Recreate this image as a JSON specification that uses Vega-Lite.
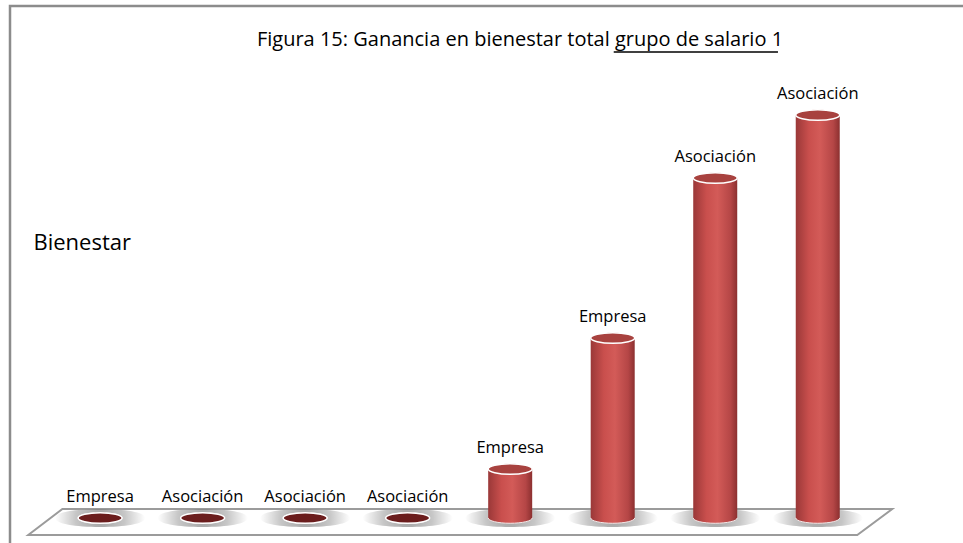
{
  "$schema": "https://vega.github.io/schema/vega-lite/v6.json",
  "width": 960,
  "height": 540,
  "autosize": {"type": "none"},
  "padding": {"left": 10, "top": 6, "right": 0, "bottom": 0},
  "background": "white",
  "config": {"view": {"stroke": "#8c8c8c", "strokeWidth": 2.5}, "font": "Open Sans"},
  "title": {
    "text": "Figura 15: Ganancia en bienestar total grupo de salario 1",
    "font": "Open Sans",
    "fontSize": 20,
    "fontWeight": "normal",
    "color": "#000000",
    "anchor": "middle",
    "frame": "group",
    "baseline": "alphabetic",
    "offset": -60,
    "dx": 30
  },
  "data": {
    "values": [
      {"pos": 1, "tipo": "Empresa", "bienestar": 0},
      {"pos": 2, "tipo": "Asociación", "bienestar": 0},
      {"pos": 3, "tipo": "Asociación", "bienestar": 0},
      {"pos": 4, "tipo": "Asociación", "bienestar": 0},
      {"pos": 5, "tipo": "Empresa", "bienestar": 49},
      {"pos": 6, "tipo": "Empresa", "bienestar": 180},
      {"pos": 7, "tipo": "Asociación", "bienestar": 340},
      {"pos": 8, "tipo": "Asociación", "bienestar": 403}
    ]
  },
  "encoding": {
    "x": {"field": "pos", "type": "quantitative", "scale": {"domain": [0.1699, 9.4363], "nice": false, "zero": false}, "axis": null},
    "y": {
      "field": "bienestar",
      "type": "quantitative",
      "scale": {"domain": [-28, 512], "nice": false, "zero": false},
      "axis": {
        "title": "Bienestar",
        "labels": false,
        "ticks": false,
        "domain": false,
        "grid": false,
        "titleAngle": 0,
        "titleX": 23,
        "titleY": 236,
        "titleAlign": "left",
        "titleBaseline": "middle",
        "titleFont": "Open Sans",
        "titleFontSize": 22,
        "titleFontWeight": "normal",
        "titleColor": "#000000"
      }
    }
  },
  "layer": [
    {
      "transform": [{"filter": "datum.pos == 1"}],
      "mark": {
        "type": "point",
        "shape": "M-0.921,-0.0301L1,-0.0301L0.919,0.0301L-1,0.0301Z",
        "size": 746496,
        "filled": true,
        "fill": "#ffffff",
        "stroke": "#9b9b9b",
        "strokeWidth": 2,
        "opacity": 1
      },
      "encoding": {
        "x": {"datum": 4.513, "type": "quantitative"},
        "y": {"datum": -4, "type": "quantitative"}
      }
    },
    {
      "mark": {
        "type": "point",
        "shape": "M-1,0C-1,-0.13,-0.55,-0.2,0,-0.2C0.55,-0.2,1,-0.13,1,0C1,0.13,0.55,0.2,0,0.2C-0.55,0.2,-1,0.13,-1,0Z",
        "size": 8100,
        "filled": true,
        "strokeWidth": 0,
        "opacity": 0.65,
        "fill": {
          "gradient": "radial",
          "x1": 0.5, "y1": 0.5, "r1": 0,
          "x2": 0.5, "y2": 0.5, "r2": 0.5,
          "stops": [
            {"offset": 0, "color": "#6f6f6f"},
            {"offset": 0.55, "color": "#a8a8a8"},
            {"offset": 1, "color": "#ffffff"}
          ]
        }
      },
      "encoding": {"y": {"datum": 0, "type": "quantitative"}}
    },
    {
      "mark": {
        "type": "point",
        "shape": "M-1,0C-1,-0.13,-0.55,-0.24,0,-0.24C0.55,-0.24,1,-0.13,1,0C1,0.13,0.55,0.24,0,0.24C-0.55,0.24,-1,0.13,-1,0Z",
        "size": 1936,
        "filled": true,
        "opacity": 1,
        "stroke": "#f2e6e6",
        "strokeWidth": 1,
        "fill": {
          "gradient": "linear",
          "x1": 0, "y1": 0, "x2": 1, "y2": 0,
          "stops": [
            {"offset": 0, "color": "#9a3838"},
            {"offset": 0.3, "color": "#c94f4d"},
            {"offset": 0.55, "color": "#d35b58"},
            {"offset": 0.85, "color": "#b54646"},
            {"offset": 1, "color": "#8c3030"}
          ]
        }
      },
      "encoding": {"y": {"datum": 0, "type": "quantitative"}}
    },
    {
      "mark": {
        "type": "bar",
        "width": 44,
        "fill": {
          "gradient": "linear",
          "x1": 0, "y1": 0, "x2": 1, "y2": 0,
          "stops": [
            {"offset": 0, "color": "#9a3838"},
            {"offset": 0.3, "color": "#c94f4d"},
            {"offset": 0.55, "color": "#d35b58"},
            {"offset": 0.85, "color": "#b54646"},
            {"offset": 1, "color": "#8c3030"}
          ]
        }
      },
      "encoding": {"y2": {"datum": 0}}
    },
    {
      "mark": {
        "type": "point",
        "shape": "M-1,0C-1,-0.13,-0.55,-0.24,0,-0.24C0.55,-0.24,1,-0.13,1,0C1,0.13,0.55,0.24,0,0.24C-0.55,0.24,-1,0.13,-1,0Z",
        "size": 1936,
        "filled": true,
        "opacity": 1,
        "stroke": "#ffffff",
        "strokeWidth": 1.5
      },
      "encoding": {
        "fill": {"condition": {"test": "datum.bienestar == 0", "value": "#6b1d1d"}, "value": "#a8423f"}
      }
    },
    {
      "mark": {"type": "text", "dy": -21, "baseline": "middle", "align": "center", "font": "Open Sans", "fontSize": 16.5, "color": "#000000"},
      "encoding": {"text": {"field": "tipo", "type": "nominal"}}
    },
    {
      "transform": [{"filter": "datum.pos == 1"}],
      "mark": {"type": "rule", "stroke": "#000000", "strokeWidth": 1.3},
      "encoding": {
        "x": {"datum": 6.01, "type": "quantitative"},
        "x2": {"datum": 7.612},
        "y": {"datum": 466, "type": "quantitative"}
      }
    }
  ]
}
